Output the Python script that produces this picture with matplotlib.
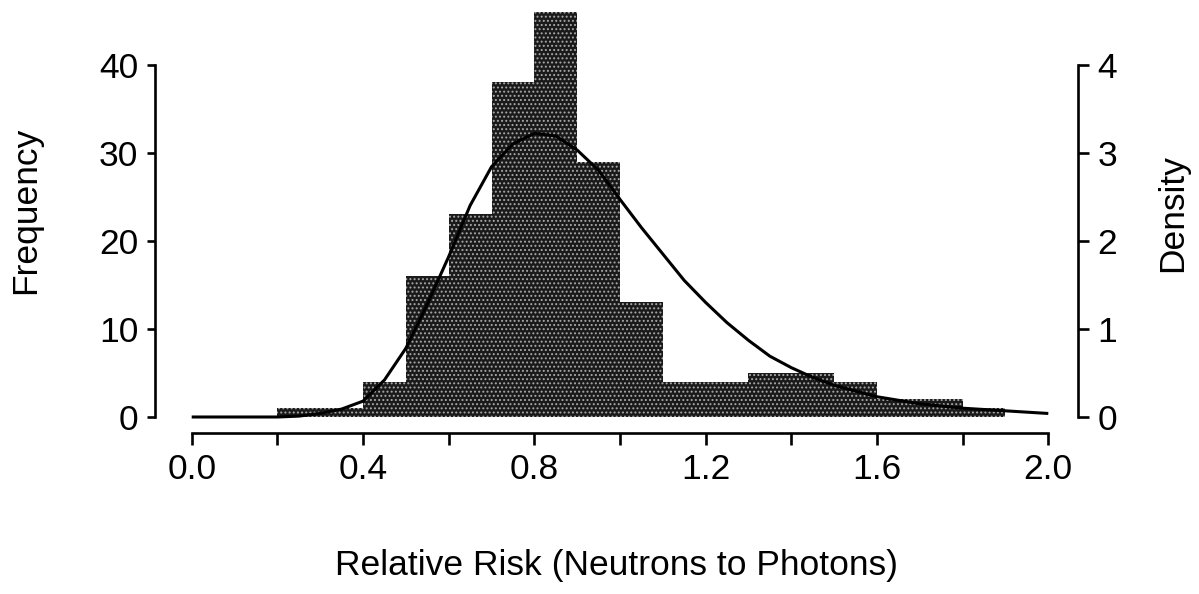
import matplotlib
matplotlib.use("Agg")
import matplotlib.pyplot as plt
from matplotlib.ticker import MultipleLocator

# ---- data ----
bin_left = [0.2, 0.3, 0.4, 0.5, 0.6, 0.7, 0.8, 0.9, 1.0, 1.1, 1.2, 1.3, 1.4, 1.5, 1.6, 1.7, 1.8]
bin_width = 0.1
counts = [1, 1, 4, 16, 23, 38, 46, 29, 13, 4, 4, 5, 5, 4, 2, 2, 1]

curve_x = [0.0, 0.1, 0.2, 0.25, 0.3, 0.35, 0.4, 0.45, 0.5, 0.55, 0.6, 0.65, 0.7,
           0.75, 0.8, 0.85, 0.9, 0.95, 1.0, 1.05, 1.1, 1.15, 1.2, 1.25, 1.3,
           1.35, 1.4, 1.45, 1.5, 1.6, 1.7, 1.8, 1.9, 2.0]
curve_density = [0.0, 0.0, 0.0, 0.01, 0.04, 0.09, 0.18, 0.42, 0.78, 1.28, 1.82,
                 2.40, 2.84, 3.10, 3.22, 3.19, 3.03, 2.80, 2.47, 2.15, 1.85,
                 1.55, 1.30, 1.07, 0.87, 0.69, 0.56, 0.45, 0.36, 0.23, 0.15,
                 0.10, 0.07, 0.04]

freq_ticks = [0, 10, 20, 30, 40]
dens_ticks = [0, 1, 2, 3, 4]
x_label_ticks = [0.0, 0.4, 0.8, 1.2, 1.6, 2.0]

plt.rcParams['font.family'] = ['Liberation Sans', 'DejaVu Sans']
plt.rcParams['hatch.linewidth'] = 0.9

W, H = 1199, 594
fig = plt.figure(figsize=(W / 100, H / 100), dpi=100)

left_px, right_px, top_px, bottom_px = 155, 1078, 0, 433
ax = fig.add_axes([left_px / W, (H - bottom_px) / H,
                   (right_px - left_px) / W, (bottom_px - top_px) / H])

# scale: 0.0 at px 191.7, 428.3 px per unit; y 0 at px 417, 8.81 px per unit
x0 = (left_px - 191.7) / 428.3
x1 = (right_px - 191.7) / 428.3
y0 = -(bottom_px - 417) / 8.81
y1 = (417 - top_px) / 8.81
ax.set_xlim(x0, x1)
ax.set_ylim(y0, y1)

ax.bar(bin_left, counts, width=bin_width, align='edge',
       facecolor='#1a1a1a', edgecolor='#a8a8a8', linewidth=0, hatch='....',
       zorder=2)

ax2 = ax.twinx()
ax2.set_ylim(y0 / 10, y1 / 10)
ax2.plot(curve_x, curve_density, color='black', lw=2.2, zorder=3,
         solid_capstyle='butt', solid_joinstyle='round')

for a in (ax, ax2):
    for s in a.spines.values():
        s.set_visible(False)
    a.patch.set_visible(False)

lw = 1.9
ax.spines['left'].set_visible(True)
ax.spines['left'].set_bounds(0, 40)
ax.spines['left'].set_linewidth(lw)
ax.spines['bottom'].set_visible(True)
ax.spines['bottom'].set_bounds(0, 2.0)
ax.spines['bottom'].set_linewidth(lw)
ax2.spines['right'].set_visible(True)
ax2.spines['right'].set_bounds(0, 4)
ax2.spines['right'].set_linewidth(lw)

fs = 25.5
ax.set_yticks(freq_ticks)
ax.set_yticklabels([str(t) for t in freq_ticks])
ax.tick_params(axis='y', direction='out', length=6, width=lw, pad=6,
               labelsize=fs)
ax.set_xticks(x_label_ticks)
ax.set_xticklabels([f"{t:.1f}" for t in x_label_ticks])
ax.xaxis.set_minor_locator(MultipleLocator(0.2))
ax.tick_params(axis='x', which='both', direction='out', length=8.5, width=lw,
               pad=6, labelsize=fs)
ax2.set_yticks(dens_ticks)
ax2.set_yticklabels([str(t) for t in dens_ticks])
ax2.tick_params(axis='y', direction='out', length=8, width=lw, pad=6,
                labelsize=fs)

span = right_px - left_px
ax.set_ylabel('Frequency', fontsize=fs)
ax.yaxis.set_label_coords(-(left_px - 42) / span, (433 - 210) / 433)
ax2.set_ylabel('Density', fontsize=fs)
ax2.yaxis.set_label_coords(1 + (1156 - right_px) / span, (433 - 213) / 433)
ax.set_xlabel('Relative Risk (Neutrons to Photons)', fontsize=fs, labelpad=45)

fig.savefig('out.png', dpi=100)
